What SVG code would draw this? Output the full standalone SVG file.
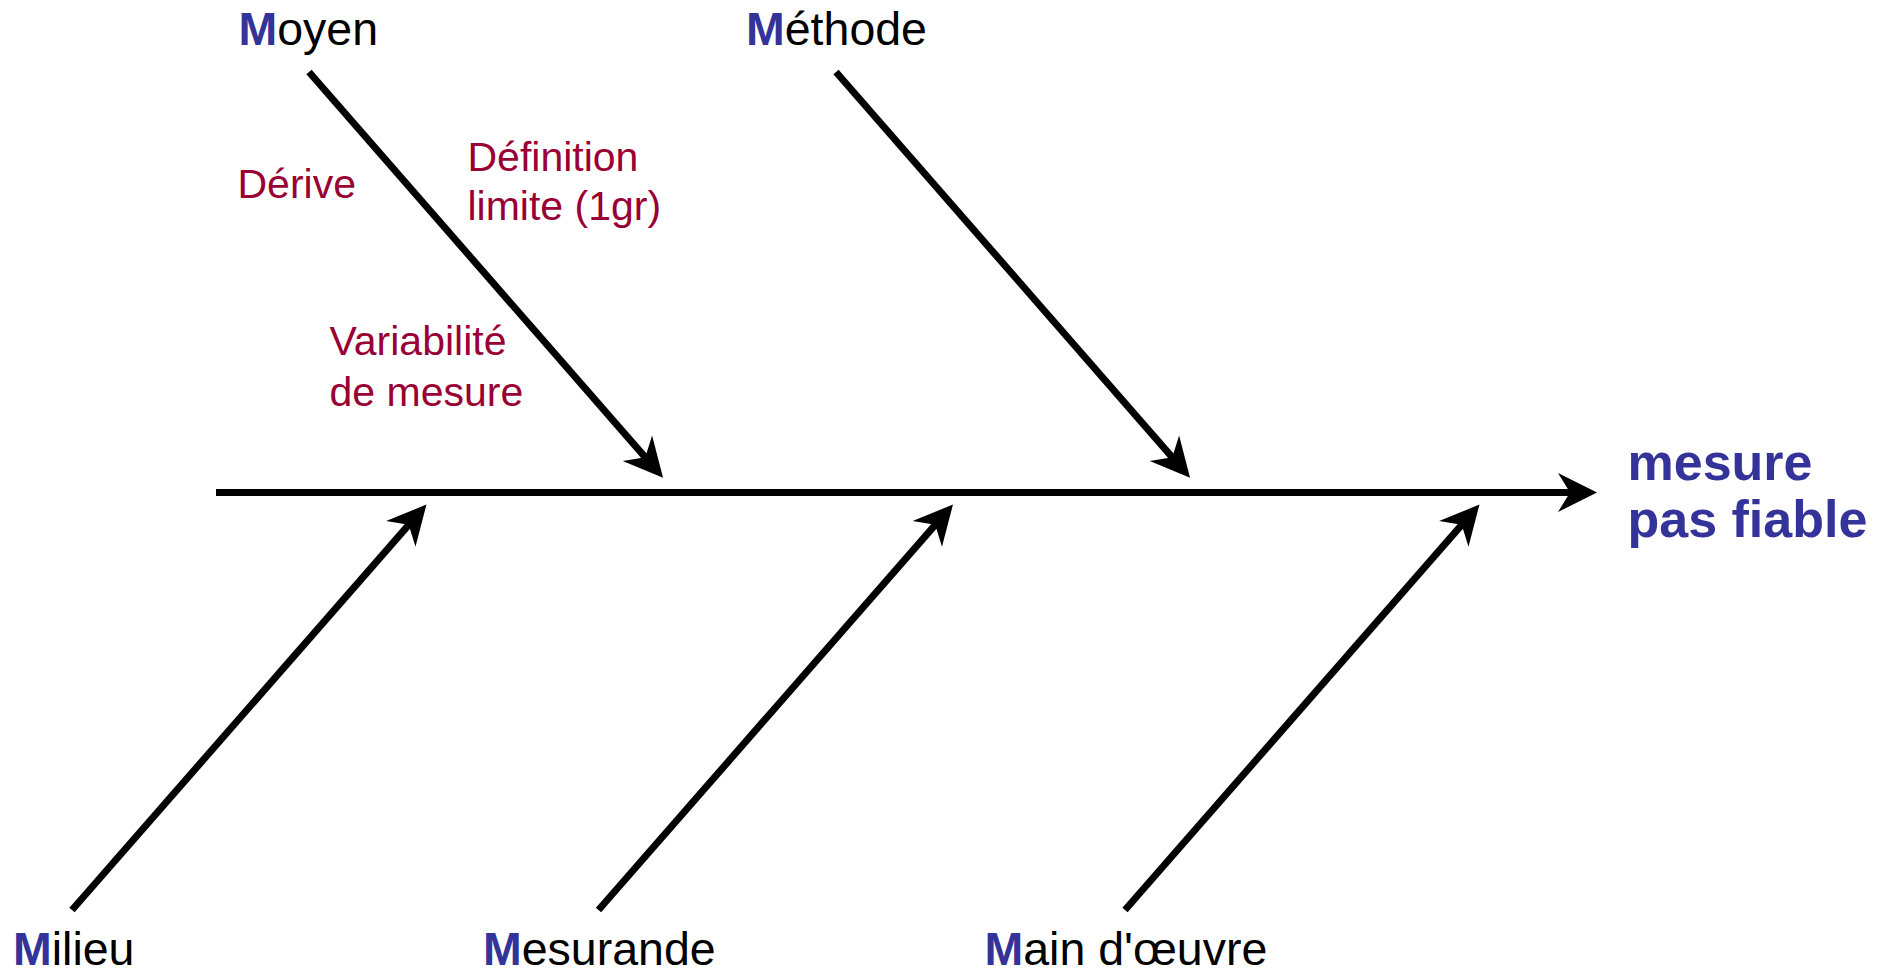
<svg xmlns="http://www.w3.org/2000/svg" width="1884" height="968" viewBox="0 0 1884 968">
<style>
text{font-family:"Liberation Sans",Arial,sans-serif}
.lbl{font-size:46.5px;fill:#000}
.m{font-weight:bold;fill:#333399}
.cause{font-size:41px;fill:#990033}
.effect{font-size:52px;font-weight:bold;fill:#333399}
.bone{stroke:#000;stroke-width:7;fill:none;marker-end:url(#arr)}
</style>
<defs>
<marker id="arr" markerUnits="userSpaceOnUse" orient="auto" refX="0" refY="0" markerWidth="60" markerHeight="60" overflow="visible">
<path d="M20,0 L-19,-19.5 L-7,0 L-19,19.5 Z" fill="#000"/>
</marker>
</defs>
<g id="connectors">
<line class="bone" x1="216" y1="492.5" x2="1577" y2="492.5"/>
<line class="bone" x1="309" y1="72" x2="649.9" y2="462.6"/>
<line class="bone" x1="836" y1="72" x2="1176.9" y2="462.6"/>
<line class="bone" x1="72" y1="910" x2="413.3" y2="519.6"/>
<line class="bone" x1="598.5" y1="910" x2="939.8" y2="519.6"/>
<line class="bone" x1="1125" y1="910" x2="1466.3" y2="519.6"/>
</g>
<g id="moyen"><text class="lbl" x="238.5" y="45"><tspan class="m">M</tspan>oyen</text></g>
<g id="methode"><text class="lbl" x="746" y="44.5"><tspan class="m">M</tspan>éthode</text></g>
<g id="milieu"><text class="lbl" x="13" y="965"><tspan class="m">M</tspan>ilieu</text></g>
<g id="mesurande"><text class="lbl" x="483" y="965"><tspan class="m">M</tspan>esurande</text></g>
<g id="main-oeuvre"><text class="lbl" x="984.5" y="965"><tspan class="m">M</tspan>ain d'œuvre</text></g>
<g id="derive"><text class="cause" x="237.5" y="198">Dérive</text></g>
<g id="definition"><text class="cause" x="467.5" y="171">Définition<tspan x="467.5" y="220">limite (1gr)</tspan></text></g>
<g id="variabilite"><text class="cause" x="329.5" y="355">Variabilité<tspan x="329.5" y="406">de mesure</tspan></text></g>
<g id="effet"><text class="effect" x="1627.5" y="480">mesure<tspan x="1627.5" y="536.7">pas fiable</tspan></text></g>
</svg>
